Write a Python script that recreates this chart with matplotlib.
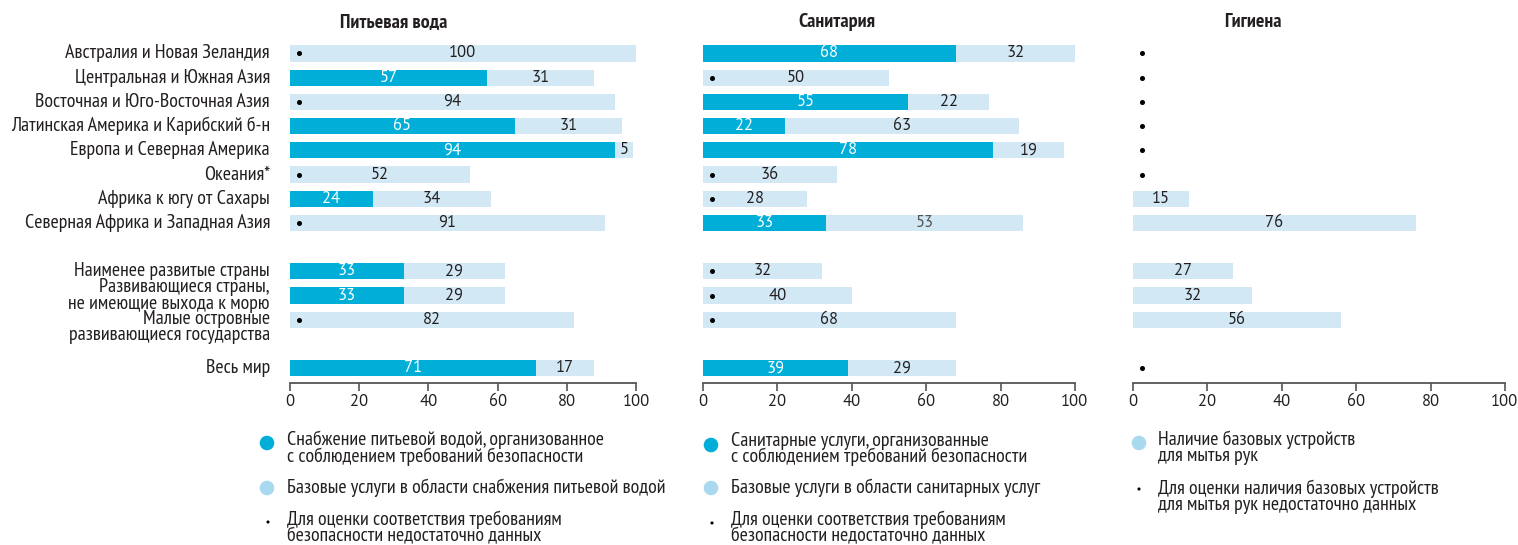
import matplotlib
matplotlib.use("Agg")
import matplotlib.pyplot as plt

plt.rcParams["font.family"] = ["PT Sans Narrow", "DejaVu Sans"]

DARK = "#00aed8"
LIGHT = "#d2e8f4"
LIGHT_LEG = "#a9d9ee"
TXT = "#231f20"
NUM_FONT = ["PT Sans", "DejaVu Sans"]
LBL_SIZE = 14.4
NUM_SIZE = 12

categories = [
    "Австралия и Новая Зеландия",
    "Центральная и Южная Азия",
    "Восточная и Юго-Восточная Азия",
    "Латинская Америка и Карибский б-н",
    "Европа и Северная Америка",
    "Океания*",
    "Африка к югу от Сахары",
    "Северная Африка и Западная Азия",
    "Наименее развитые страны",
    "Развивающиеся страны,\nне имеющие выхода к морю",
    "Малые островные\nразвивающиеся государства",
    "Весь мир",
]
positions = [0, 1, 2, 3, 4, 5, 6, 7, 9, 10, 11, 13]

water_safe = [None, 57, None, 65, 94, None, 24, None, 33, 33, None, 71]
water_basic = [100, 31, 94, 31, 5, 52, 34, 91, 29, 29, 82, 17]
san_safe = [68, None, 55, 22, 78, None, None, 33, None, None, None, 39]
san_basic = [32, 50, 22, 63, 19, 36, 28, 53, 32, 40, 68, 29]
hyg_basic = [None, None, None, None, None, None, 15, 76, 27, 32, 56, None]

titles = ["Питьевая вода", "Санитария", "Гигиена"]
ticks = [0, 20, 40, 60, 80, 100]

BAR_H = 0.67
W, H = 1518, 545

fig = plt.figure(figsize=(W / 100, H / 100), dpi=100)
fig.set_facecolor("white")

bottom = 1 - 383.2 / H
top = 1 - 42 / H
ax_w = fig.add_axes([290 / W, bottom, 346 / W, top - bottom])
ax_s = fig.add_axes([703 / W, bottom, 372 / W, top - bottom])
ax_h = fig.add_axes([1133 / W, bottom, 372 / W, top - bottom])


def style_axis(ax):
    ax.set_xlim(0, 100)
    ax.set_ylim(13.62, -0.475)
    ax.set_xticks(ticks)
    ax.set_xticklabels([str(t) for t in ticks], family=NUM_FONT,
                       fontsize=NUM_SIZE, color=TXT)
    ax.set_yticks([])
    for sp in ["top", "right", "left"]:
        ax.spines[sp].set_visible(False)
    ax.spines["bottom"].set_color("#555555")
    ax.spines["bottom"].set_linewidth(1.3)
    ax.tick_params(axis="x", length=6, width=1.2, color="#555555", pad=2)


def draw_panel(ax, safe, basic):
    # safe=None means the panel has no "safely managed" series at all
    if safe is None:
        safe = [None] * len(basic)
        no_data = [b is None for b in basic]
    else:
        no_data = [s is None for s in safe]
    for pos, s, b, nd in zip(positions, safe, basic, no_data):
        start = 0
        if s is not None:
            ax.barh(pos, s, height=BAR_H, color=DARK, edgecolor="none")
            ax.text(s / 2, pos, str(s), color="white", ha="center",
                    va="center", fontsize=NUM_SIZE, family=NUM_FONT)
            start = s
        if b is not None:
            ax.barh(pos, b, left=start, height=BAR_H, color=LIGHT,
                    edgecolor="none")
            col = "#555555" if (s == 33 and b == 53) else TXT
            ax.text(start + b / 2, pos, str(b), color=col, ha="center",
                    va="center", fontsize=NUM_SIZE, family=NUM_FONT)
        if nd:
            ax.plot(2.5, pos, "o", ms=2.6, color="black", zorder=5)
    style_axis(ax)


draw_panel(ax_w, water_safe, water_basic)
draw_panel(ax_s, san_safe, san_basic)
draw_panel(ax_h, None, hyg_basic)

# category labels
for cat, pos in zip(categories, positions):
    y = pos
    if cat.startswith("Малые"):
        y = pos + 0.31
    ax_w.text(-0.058, y, cat, transform=ax_w.get_yaxis_transform(),
              ha="right", va="center", fontsize=LBL_SIZE, color=TXT,
              linespacing=0.88)

# panel titles
for t, xc in zip(titles, [394, 837, 1253]):
    fig.text(xc / W, 1 - 22 / H, t, ha="center", va="center",
             fontsize=LBL_SIZE, fontweight="bold", color=TXT)

# legend
lg = fig.add_axes([0, 0, 1, 1], zorder=-1)
lg.set_xlim(0, W)
lg.set_ylim(H, 0)
lg.axis("off")

legend_items = [
    (267, 443, DARK, 110, 287, 448,
     "Снабжение питьевой водой, организованное\nс соблюдением требований безопасности"),
    (267, 488, LIGHT_LEG, 110, 287, 488,
     "Базовые услуги в области снабжения питьевой водой"),
    (268, 522, "black", 5, 287, 528,
     "Для оценки соответствия требованиям\nбезопасности недостаточно данных"),
    (711, 445, DARK, 110, 731, 449,
     "Санитарные услуги, организованные\nс соблюдением требований безопасности"),
    (711, 488, LIGHT_LEG, 110, 731, 488,
     "Базовые услуги в области санитарных услуг"),
    (712, 523, "black", 5, 731, 528,
     "Для оценки соответствия требованиям\nбезопасности недостаточно данных"),
    (1139, 443, LIGHT_LEG, 110, 1158, 448,
     "Наличие базовых устройств\nдля мытья рук"),
    (1139, 489, "black", 5, 1158, 497,
     "Для оценки наличия базовых устройств\nдля мытья рук недостаточно данных"),
]
for mx, my, mc, ms, tx, ty, label in legend_items:
    lg.scatter([mx], [my], s=ms, color=mc, edgecolor="none")
    lg.text(tx, ty, label, ha="left", va="center", fontsize=LBL_SIZE,
            color=TXT, linespacing=0.88)

fig.savefig("out.png", dpi=100, facecolor="white")
